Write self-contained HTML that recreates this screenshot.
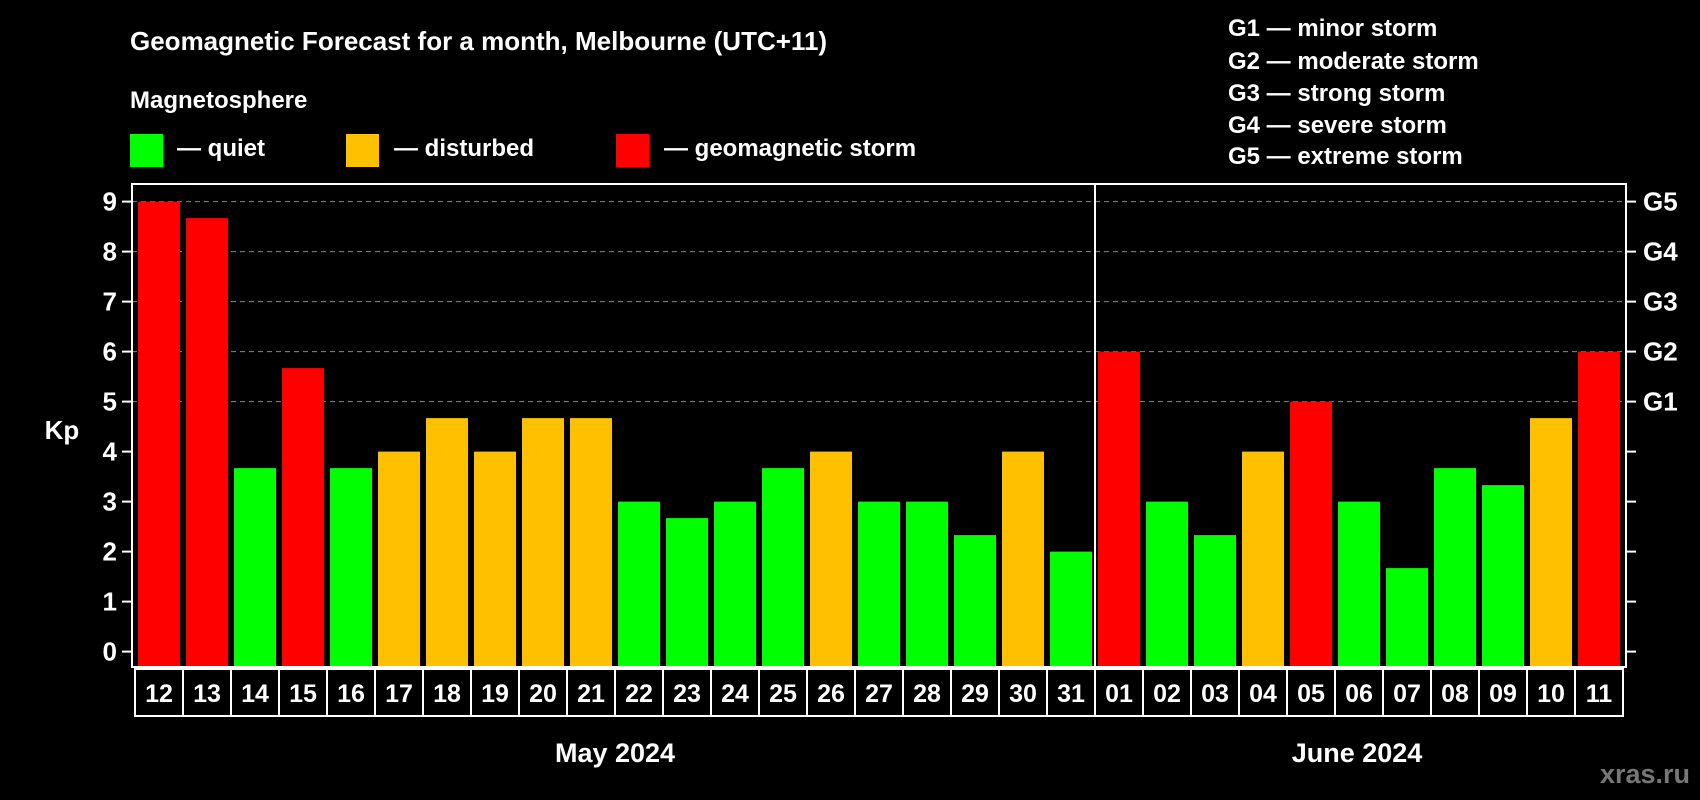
<!DOCTYPE html>
<html><head><meta charset="utf-8">
<style>
html,body{margin:0;padding:0;background:#000;}
svg{display:block;font-family:"Liberation Sans",Arial,sans-serif;font-weight:bold;}
</style></head>
<body>
<svg id="chart" width="1700" height="800" viewBox="0 0 1700 800" xmlns="http://www.w3.org/2000/svg">
<rect x="0" y="0" width="1700" height="800" fill="#000"/>
<text x="130" y="50" fill="#fff" font-size="26">Geomagnetic Forecast for a month, Melbourne (UTC+11)</text>
<text x="130" y="108" fill="#fff" font-size="24">Magnetosphere</text>
<g>
<rect x="130" y="134" width="33" height="33" fill="#00ff00"/>
<text x="177" y="156" fill="#fff" font-size="24">— quiet</text></g>
<g>
<rect x="346" y="134" width="33" height="33" fill="#ffc000"/>
<text x="394" y="156" fill="#fff" font-size="24">— disturbed</text></g>
<g>
<rect x="616" y="134" width="33" height="33" fill="#ff0000"/>
<text x="664" y="156" fill="#fff" font-size="24">— geomagnetic storm</text></g>
<g fill="#fff" font-size="24">
<text x="1228" y="36">G1 — minor storm</text>
<text x="1228" y="69">G2 — moderate storm</text>
<text x="1228" y="101">G3 — strong storm</text>
<text x="1228" y="133">G4 — severe storm</text>
<text x="1228" y="164">G5 — extreme storm</text>
</g>
<text x="62" y="439" fill="#fff" font-size="26" text-anchor="middle">Kp</text>
<text x="615" y="762" fill="#fff" font-size="27" text-anchor="middle">May 2024</text>
<text x="1357" y="762" fill="#fff" font-size="27" text-anchor="middle">June 2024</text>
<text x="1690" y="783" fill="#777" font-size="27" text-anchor="end">xras.ru</text>
<g id="plot"></g>
</svg>
<script>
const days = ["12","13","14","15","16","17","18","19","20","21","22","23","24","25","26","27","28","29","30","31","01","02","03","04","05","06","07","08","09","10","11"];
const kpValues = [9,8.67,3.67,5.67,3.67,4,4.67,4,4.67,4.67,3,2.67,3,3.67,4,3,3,2.33,4,2,6,3,2.33,4,5,3,1.67,3.67,3.33,4.67,6];
const yTicks = [0,1,2,3,4,5,6,7,8,9];
const gLabels = ["G1","G2","G3","G4","G5"];
const gLevels = [5,6,7,8,9];

const NS="http://www.w3.org/2000/svg";
const plot=document.getElementById('plot');
const L=132,R=1626,T=184,B=667,y0=651.6,unit=50,pitch=48,x0=138,bw=42;
const y=v=>y0-v*unit;
const x=i=>x0+i*pitch;
function mk(tag,attrs){const e=document.createElementNS(NS,tag);for(const k in attrs)e.setAttribute(k,attrs[k]);plot.appendChild(e);return e;}
// grid
gLevels.forEach(v=>{
  const g=mk('line',{x1:L,x2:R,y1:y(v),y2:y(v),stroke:'#888','stroke-width':1,'stroke-dasharray':'5,4'});
  
  
});
// bars
kpValues.forEach((v,i)=>{
  const c=v>=5?'#ff0000':(v>=4?'#ffc000':'#00ff00');
  const r=mk('rect',{x:x(i),y:y(v),width:bw,height:B-y(v),fill:c});
  
  
});
// frame
const f=mk('rect',{x:L,y:T,width:R-L,height:B-T,fill:'none',stroke:'#fff','stroke-width':2});


const sepIdx=days.indexOf("01");
const sx=x(sepIdx)-3;
const sp=mk('line',{x1:sx,x2:sx,y1:T,y2:B,stroke:'#fff','stroke-width':2});


// y ticks
yTicks.forEach(v=>{
  const t1=mk('line',{x1:L-10,x2:L,y1:y(v),y2:y(v),stroke:'#fff','stroke-width':2});
  
  
  const t2=mk('line',{x1:R,x2:R+10,y1:y(v),y2:y(v),stroke:'#fff','stroke-width':2});
  
  
  const tl=mk('text',{x:117,y:y(v)+9,fill:'#fff','font-size':26,'text-anchor':'end'});
  tl.textContent=v;
  
  
});
gLabels.forEach((g,i)=>{
  const t=mk('text',{x:1643,y:y(gLevels[i])+9,fill:'#fff','font-size':26});
  t.textContent=g;
  
  
});
// day boxes
days.forEach((d,i)=>{
  const bx=mk('rect',{x:x(i)-3,y:669,width:pitch,height:47,fill:'none',stroke:'#fff','stroke-width':2});
  
  
  const t=mk('text',{x:x(i)+bw/2,y:702,fill:'#fff','font-size':25,'text-anchor':'middle'});
  t.textContent=d;
  
  
});
</script>
</body></html>
